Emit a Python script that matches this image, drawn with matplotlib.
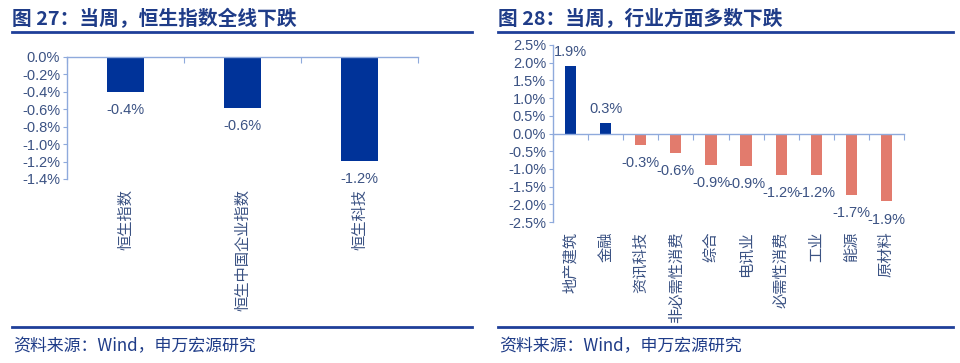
import numpy as np
import matplotlib
matplotlib.use('Agg')
import matplotlib.pyplot as plt
from matplotlib.lines import Line2D
from matplotlib.transforms import blended_transform_factory

# ─── Data ─────────────────────────────────────────
HS_NAMES  = ["恒生指数", "恒生中国企业指数", "恒生科技"]
HS_VALUES = [-0.40, -0.58, -1.19]

IND_NAMES  = ["地产建筑", "金融", "资讯科技", "非必需性消费", "综合",
              "电讯业", "必需性消费", "工业", "能源", "原材料"]
IND_VALUES = [1.92, 0.31, -0.32, -0.56, -0.90, -0.92, -1.16, -1.18, -1.73, -1.92]

TITLE_L = "图 27：当周，恒生指数全线下跌"
TITLE_R = "图 28：当周，行业方面多数下跌"
SOURCE  = "资料来源：Wind，申万宏源研究"
# ──────────────────────────────────────────────────

NAVY   = '#003399'
SALMON = '#E27B6D'
AXIS   = '#8FAADC'
TXT    = '#3B5283'
TITLE  = '#1F3C88'
RULE   = '#1F3F99'
NUMF   = ['Liberation Sans', 'DejaVu Sans']
CJKF   = ['Noto Sans CJK SC', 'DejaVu Sans']

W, H = 960, 363
fig = plt.figure(figsize=(W / 100, H / 100), dpi=100, facecolor='white')


def px(x0, y0, x1, y1):
    """pixel box (top-left origin) -> fig rect"""
    return [x0 / W, 1 - y1 / H, (x1 - x0) / W, (y1 - y0) / H]


def style_ax(ax, names, yticks):
    for s in ['top', 'right']:
        ax.spines[s].set_visible(False)
    ax.spines['left'].set_color(AXIS)
    ax.spines['bottom'].set_color(AXIS)
    ax.spines['left'].set_linewidth(1.0)
    ax.spines['bottom'].set_linewidth(1.0)
    ax.spines['bottom'].set_position(('data', 0))
    n = len(names)
    ax.set_xlim(-0.5, n - 0.5)
    ax.set_xticks(np.arange(n + 1) - 0.5)
    ax.set_xticklabels([])
    ax.tick_params(axis='x', direction='out', length=4, color=AXIS)
    ax.set_yticks(yticks)
    ax.set_yticklabels([f'{v:.1f}%' for v in yticks], fontfamily=NUMF,
                       fontsize=10.5, color=TXT)
    ax.tick_params(axis='y', direction='out', length=3, color=AXIS, pad=2)
    tr = blended_transform_factory(ax.transData, ax.transAxes)
    for i, name in enumerate(names):
        ax.annotate(name, (i, 0), xycoords=tr, xytext=(0, -7),
                    textcoords='offset points', rotation=90, ha='center',
                    va='top', fontsize=11, color=TXT, family=CJKF)


def bar_labels(ax, values):
    for i, v in enumerate(values):
        if v >= 0:
            ax.annotate(f'{v:.1f}%', (i, v), xytext=(0, 5), textcoords='offset points',
                        ha='center', va='bottom', fontsize=10.5, color=TXT, family=NUMF)
        else:
            ax.annotate(f'{v:.1f}%', (i, v), xytext=(0, -8), textcoords='offset points',
                        ha='center', va='top', fontsize=10.5, color=TXT, family=NUMF)


# ── Left chart ──
ax1 = fig.add_axes(px(67, 57, 418, 179))
ax1.set_facecolor('none')
ax1.bar(range(len(HS_VALUES)), HS_VALUES, width=0.31, color=NAVY)
ax1.set_ylim(-1.4, 0)
style_ax(ax1, HS_NAMES, np.arange(0, -1.41, -0.2))
bar_labels(ax1, HS_VALUES)

# ── Right chart ──
ax2 = fig.add_axes(px(553, 45, 904, 222))
ax2.set_facecolor('none')
cols = [NAVY if v >= 0 else SALMON for v in IND_VALUES]
ax2.bar(range(len(IND_VALUES)), IND_VALUES, width=0.32, color=cols)
ax2.set_ylim(-2.5, 2.5)
style_ax(ax2, IND_NAMES, np.arange(2.5, -2.51, -0.5))
bar_labels(ax2, IND_VALUES)

# ── Titles, rules, source ──
for x0, x1, title in [(12, 472, TITLE_L), (498, 953, TITLE_R)]:
    fig.text(x0 / W, 1 - 19 / H, title, ha='left', va='center', fontsize=14.2,
             fontweight='bold', color=TITLE, family=CJKF)
    fig.add_artist(Line2D([x0 / W, x1 / W], [1 - 32 / H] * 2, color=RULE, lw=2))
    fig.add_artist(Line2D([x0 / W, x1 / W], [1 - 327 / H] * 2, color=RULE, lw=2))
    fig.text((x0 + 1) / W, 1 - 346 / H, SOURCE, ha='left', va='center', fontsize=12.2,
             color=TITLE, family=CJKF)

plt.savefig('out.png', dpi=100, facecolor='white')
plt.close()
